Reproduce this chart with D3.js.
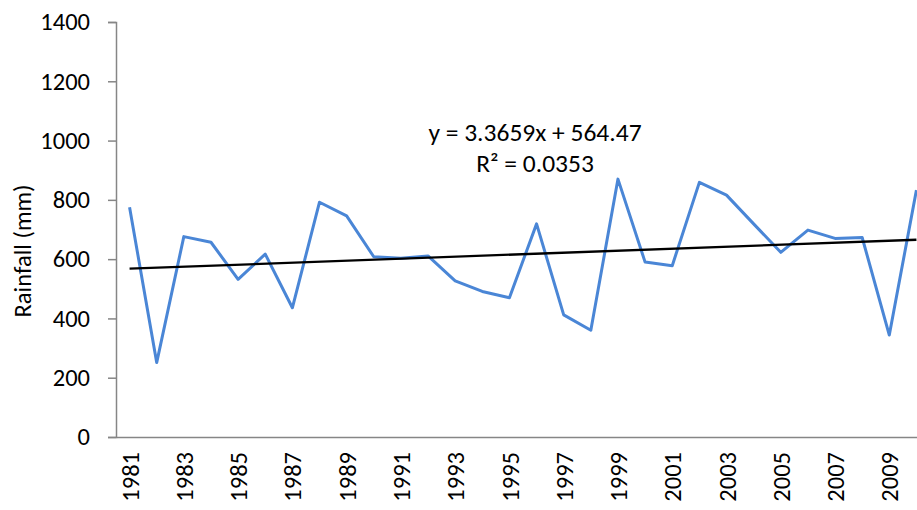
<!DOCTYPE html>
<html><head><meta charset="utf-8">
<script src="https://cdn.jsdelivr.net/npm/d3@7"></script>
<style>body{margin:0;background:#fff;} svg{display:block;} text{font-family:Carlito,Calibri,"Open Sans",Lato,sans-serif;fill:#000;}</style>
</head><body>
<svg id="c" width="917" height="510"></svg>
<script>
const years = d3.range(1981, 2011).map(String);
const rainfall = [775,251,676,657,532,617,436,792,746,608,603,611,527,491,470,719,412,360,870,590,578,859,816,719,623,698,670,673,344,833];
const yTicks = [0,200,400,600,800,1000,1200,1400];
const xTickLabels = years.filter((d,i)=>i%2===0);
const trendSlope = 3.3659, trendIntercept = 564.47;
const eqText = "y = 3.3659x + 564.47";
const r2Text = "R² = 0.0353";
const yTitle = "Rainfall (mm)";

const svg = d3.select("#c");
const x = d3.scalePoint().domain(years).range([116, 930]).padding(0.5);
const y = d3.scaleLinear().domain([0,1400]).range([437, 22]);
const axisColor = "#868686";
const fs = 24.5;

// Y axis
const ya = svg.append("g").attr("transform","translate(116,0)")
  .call(d3.axisLeft(y).tickValues(yTicks).tickSize(8).tickPadding(18).tickFormat(d3.format("d")));
ya.select(".domain").attr("stroke",axisColor).attr("stroke-width",1.5);
ya.selectAll(".tick line").attr("stroke",axisColor).attr("stroke-width",1.5);
ya.selectAll(".tick text").attr("font-size",fs).attr("fill","#000");

// X axis
const xa = svg.append("g").attr("transform","translate(0,437)")
  .call(d3.axisBottom(x).tickValues(xTickLabels).tickSize(0).tickPadding(0).tickSizeOuter(0));
xa.select(".domain").attr("stroke",axisColor).attr("stroke-width",1.5);
xa.selectAll(".tick text").attr("font-size",fs).attr("fill","#000")
  .attr("transform","rotate(-90)").attr("text-anchor","end").attr("x",-15).attr("y",0).attr("dy","0.35em");

// y title
svg.append("text").attr("transform","translate(22,251) rotate(-90)").attr("text-anchor","middle")
  .attr("dy","0.35em").attr("font-size",fs).text(yTitle);

// data line
const line = d3.line().x((d,i)=>x(years[i])).y(d=>y(d));
svg.append("path").datum(rainfall).attr("d",line).attr("fill","none")
  .attr("stroke","#4a86d6").attr("stroke-width",3).attr("stroke-linejoin","round");

// trend line
const t0 = trendIntercept + trendSlope*1, t1 = trendIntercept + trendSlope*years.length;
svg.append("line").attr("x1",x(years[0])).attr("x2",x(years[years.length-1]))
  .attr("y1",y(t0)).attr("y2",y(t1)).attr("stroke","#000").attr("stroke-width",2.3);

// equation
svg.append("text").attr("x",535).attr("y",132).attr("dy","0.35em").attr("text-anchor","middle")
  .attr("font-size",25.5).text(eqText);
svg.append("text").attr("x",535).attr("y",163).attr("dy","0.35em").attr("text-anchor","middle")
  .attr("font-size",25.5).text(r2Text);
</script>
</body></html>
